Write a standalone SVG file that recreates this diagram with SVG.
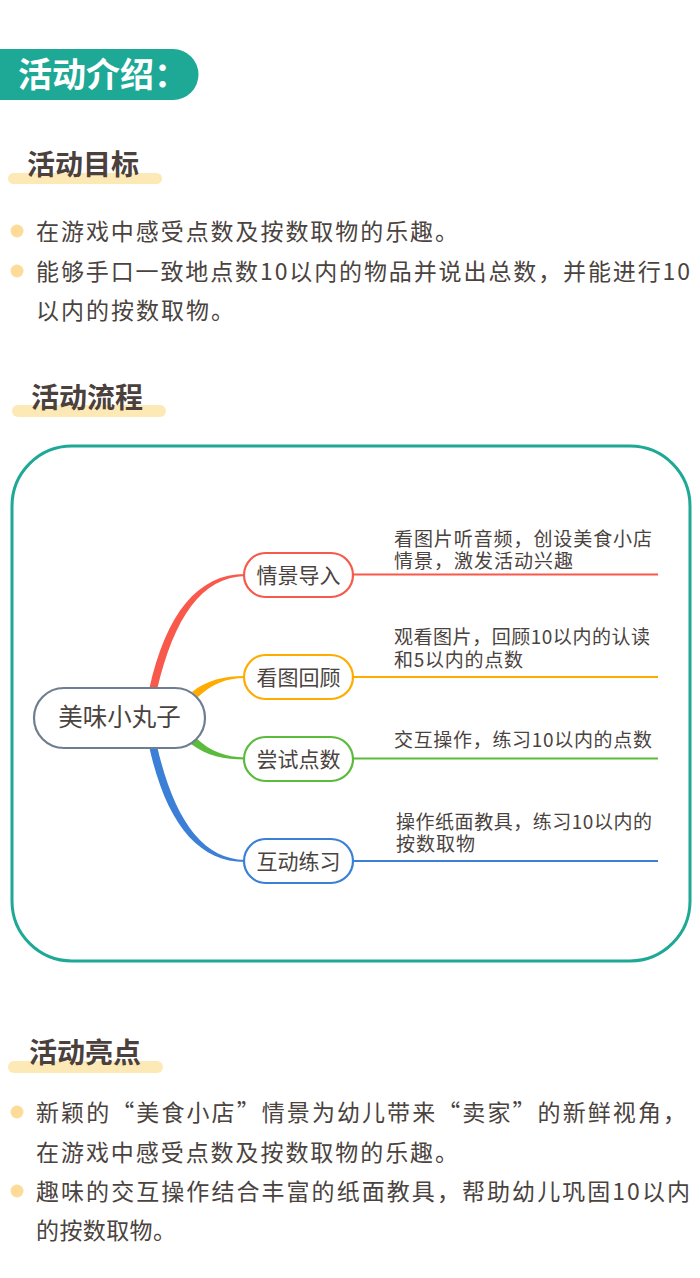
<svg xmlns="http://www.w3.org/2000/svg" width="700" height="1278" viewBox="0 0 700 1278">
<style>
.t{font-family:"Noto Sans CJK SC","Noto Sans",sans-serif;fill:#4a4340}
.h{font-size:28px;font-weight:bold;fill:#4b403b}
.b{font-size:23px}
.m{font-size:19px}
.n{font-size:21px}
.bar{fill:#fde9b5}
.dot{fill:#fddc9a}
.node{fill:#fff;stroke-width:2.2}
</style>
<rect width="700" height="1278" fill="#fff"/>
<!-- header -->
<g id="header">
<path d="M0,49 H173 A25.5,25.5 0 0 1 173,100 H0 Z" fill="#1ea896"/>
<text x="18" y="87" font-family="Noto Sans CJK SC,sans-serif" font-size="34" font-weight="bold" fill="#fff">活动介绍：</text>
</g>
<!-- 活动目标 -->
<g id="goal">
<rect class="bar" x="8" y="173" width="154" height="11" rx="5.5"/>
<text class="t h" x="27" y="175">活动目标</text>
<circle class="dot" cx="17" cy="231" r="6.5"/>
<text class="t b" x="36" y="240" textLength="422" lengthAdjust="spacing">在游戏中感受点数及按数取物的乐趣。</text>
<circle class="dot" cx="17" cy="271" r="6.5"/>
<text class="t b" x="36" y="280" textLength="654" lengthAdjust="spacing">能够手口一致地点数10以内的物品并说出总数，并能进行10</text>
<text class="t b" x="36" y="319" textLength="198" lengthAdjust="spacing">以内的按数取物。</text>
</g>
<!-- 活动流程 -->
<g id="flow-title">
<rect class="bar" x="12" y="405" width="154" height="12" rx="6"/>
<text class="t h" x="31" y="408">活动流程</text>
</g>
<g id="frame">
<rect x="12" y="446" width="678" height="515" rx="60" fill="#fff" stroke="#1ea896" stroke-width="3"/>
</g>
<!-- connectors -->
<g id="connectors">
<path d="M149,690 C166,613 198,574 245,574 L245,576 C202,577 174,617 157,690 Z" fill="#f8594a"/>
<path d="M192,692 C207,680 224,676 245,676 L245,678 C226,678 212,684 198,697 Z" fill="#ffab00"/>
<path d="M196,738 C211,752 226,757 245,757.5 L245,759.5 C224,759.5 207,756 191,744 Z" fill="#5bbb3c"/>
<path d="M149,746 C166,823 198,862 245,862 L245,860 C202,859 174,819 157,746 Z" fill="#3b7fd6"/>
<line x1="353" y1="574.5" x2="658" y2="574.5" stroke="#f8594a" stroke-width="2"/>
<line x1="353" y1="677" x2="658" y2="677" stroke="#ffab00" stroke-width="2"/>
<line x1="353" y1="758.5" x2="658" y2="758.5" stroke="#5bbb3c" stroke-width="2"/>
<line x1="353" y1="861" x2="658" y2="861" stroke="#3b7fd6" stroke-width="2"/>
</g>
<!-- central -->
<g id="center">
<rect class="node" x="34" y="688" width="171" height="60" rx="30" stroke="#6f7d90" stroke-width="2.5"/>
<text class="t" x="119.5" y="726" font-size="24.5" text-anchor="middle">美味小丸子</text>
</g>
<g id="n1">
<rect class="node" x="244" y="553" width="109" height="44" rx="22" stroke="#f55a4b"/>
<text class="t n" x="298.5" y="583" text-anchor="middle">情景导入</text>
<text class="t m" x="394" y="546" textLength="258" lengthAdjust="spacing">看图片听音频，创设美食小店</text>
<text class="t m" x="394" y="568" textLength="179" lengthAdjust="spacing">情景，激发活动兴趣</text>
</g>
<g id="n2">
<rect class="node" x="244" y="655" width="109" height="44" rx="22" stroke="#ffab00"/>
<text class="t n" x="298.5" y="685" text-anchor="middle">看图回顾</text>
<text class="t m" x="394" y="644" textLength="256" lengthAdjust="spacing">观看图片，回顾10以内的认读</text>
<text class="t m" x="394" y="667" textLength="129" lengthAdjust="spacing">和5以内的点数</text>
</g>
<g id="n3">
<rect class="node" x="244" y="737" width="109" height="44" rx="22" stroke="#5bbb3c"/>
<text class="t n" x="298.5" y="767" text-anchor="middle">尝试点数</text>
<text class="t m" x="394" y="747" textLength="258" lengthAdjust="spacing">交互操作，练习10以内的点数</text>
</g>
<g id="n4">
<rect class="node" x="244" y="839" width="109" height="44" rx="22" stroke="#3b7fd6"/>
<text class="t n" x="298.5" y="869" text-anchor="middle">互动练习</text>
<text class="t m" x="396" y="829" textLength="256" lengthAdjust="spacing">操作纸面教具，练习10以内的</text>
<text class="t m" x="396" y="851" textLength="79" lengthAdjust="spacing">按数取物</text>
</g>
<!-- 活动亮点 -->
<g id="highlight">
<rect class="bar" x="8" y="1061" width="155" height="12" rx="6"/>
<text class="t h" x="29" y="1063">活动亮点</text>
<circle class="dot" cx="17" cy="1112" r="6.5"/>
<text class="t b" x="36" y="1121" textLength="650" lengthAdjust="spacing">新颖的“美食小店”情景为幼儿带来“卖家”的新鲜视角，</text>
<text class="t b" x="36" y="1161" textLength="422" lengthAdjust="spacing">在游戏中感受点数及按数取物的乐趣。</text>
<circle class="dot" cx="17" cy="1191" r="6.5"/>
<text class="t b" x="36" y="1200" textLength="654" lengthAdjust="spacing">趣味的交互操作结合丰富的纸面教具，帮助幼儿巩固10以内</text>
<text class="t b" x="36" y="1239" textLength="140" lengthAdjust="spacing">的按数取物。</text>
</g>
</svg>
